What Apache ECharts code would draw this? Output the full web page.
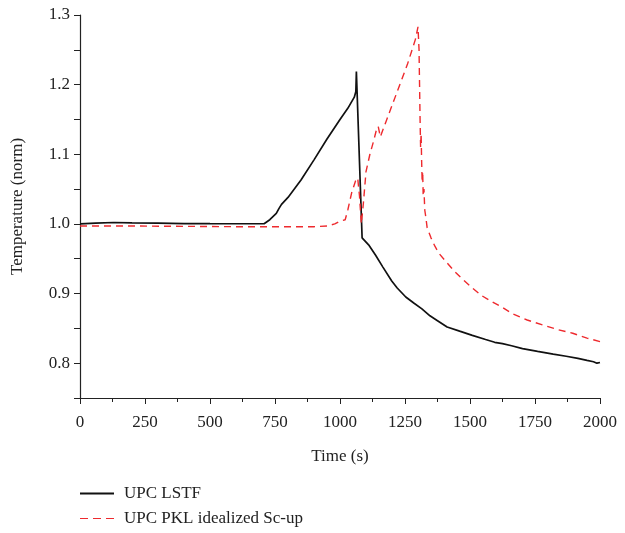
<!DOCTYPE html>
<html>
<head>
<meta charset="utf-8">
<script src="https://cdn.jsdelivr.net/npm/echarts@6/dist/echarts.min.js"></script>
<style>html,body{margin:0;padding:0;background:#fff}#c{width:625px;height:533px}</style>
</head>
<body>
<div id="c"></div>
<script>
var seriesNames = ['UPC LSTF', 'UPC PKL idealized Sc-up'];
var xTicks = [0, 250, 500, 750, 1000, 1250, 1500, 1750, 2000];
var yTicks = [0.8, 0.9, 1.0, 1.1, 1.2, 1.3];

var timeLSTF = [0, 60, 130, 200, 300, 400, 500, 600, 700, 708, 730, 755, 765, 775, 800, 850, 900, 950, 1000, 1030, 1055, 1061, 1063, 1085, 1110, 1137, 1165, 1199, 1220, 1253, 1285, 1315, 1346, 1375, 1412, 1460, 1509, 1560, 1595, 1625, 1660, 1702, 1760, 1820, 1870, 1915, 1950, 1975, 1988, 2000];
var tempLSTF = [1.000, 1.001, 1.002, 1.0015, 1.001, 1.0005, 1.0003, 1.0002, 1.0002, 1.0003, 1.006, 1.015, 1.022, 1.028, 1.038, 1.063, 1.092, 1.122, 1.150, 1.166, 1.182, 1.19, 1.219, 0.98, 0.970, 0.955, 0.938, 0.918, 0.908, 0.895, 0.886, 0.878, 0.868, 0.861, 0.852, 0.846, 0.840, 0.834, 0.830, 0.828, 0.825, 0.821, 0.817, 0.813, 0.810, 0.807, 0.804, 0.802, 0.800, 0.801];

var timePKL = [0, 200, 400, 600, 800, 900, 950, 980, 1000, 1020, 1030, 1045, 1060, 1068, 1075, 1082, 1090, 1100, 1115, 1130, 1140, 1147, 1155, 1180, 1220, 1260, 1290, 1300, 1304, 1306, 1308, 1310, 1312, 1314, 1316, 1318, 1320, 1323, 1326, 1330, 1335, 1340, 1350, 1365, 1380, 1412, 1440, 1470, 1509, 1545, 1586, 1625, 1663, 1720, 1779, 1840, 1895, 1950, 2000];
var tempPKL = [0.997, 0.997, 0.9965, 0.996, 0.996, 0.996, 0.997, 1.0, 1.004, 1.006, 1.02, 1.045, 1.062, 1.066, 1.04, 1.0, 1.03, 1.075, 1.1, 1.12, 1.135, 1.14, 1.125, 1.15, 1.19, 1.23, 1.265, 1.283, 1.25, 1.2, 1.15, 1.11, 1.13, 1.09, 1.06, 1.075, 1.04, 1.05, 1.02, 1.01, 0.995, 0.99, 0.98, 0.968, 0.958, 0.944, 0.932, 0.921, 0.908, 0.897, 0.888, 0.880, 0.871, 0.862, 0.855, 0.848, 0.843, 0.836, 0.831];

function pairs(xs, ys) { return xs.map(function (x, i) { return [x, ys[i]]; }); }

var font = 'Liberation Serif';
var chart = echarts.init(document.getElementById('c'), null, {renderer: 'canvas'});
chart.setOption({
  animation: false,
  backgroundColor: '#fff',
  grid: {left: 80, right: 25, top: 15, bottom: 135, containLabel: false},
  legend: {
    show: true,
    orient: 'vertical', left: 75, top: 480, itemWidth: 34, itemHeight: 1.8, itemGap: 8,
    textStyle: {fontFamily: font, fontSize: 17, color: '#222', padding: [0, 0, 0, 5]},
    data: [
      {name: seriesNames[0], icon: 'rect'},
      {name: seriesNames[1], icon: 'path://M0,0h8v1h-8zM13,0h8v1h-8zM26,0h8v1h-8z'}
    ]
  },
  xAxis: {
    type: 'value', min: 0, max: 2000, interval: 250,
    name: 'Time (s)', nameLocation: 'middle', nameGap: 50,
    nameTextStyle: {fontFamily: font, fontSize: 17, color: '#222'},
    axisLine: {lineStyle: {color: '#222', width: 1.2}},
    axisTick: {show: true, length: 6, lineStyle: {color: '#222'}},
    minorTick: {show: true, splitNumber: 2, length: 4, lineStyle: {color: '#222'}},
    splitLine: {show: false},
    axisLabel: {fontFamily: font, fontSize: 17, color: '#222', margin: 16,
      formatter: function (v) { return xTicks.indexOf(v) >= 0 ? String(v) : ''; }}
  },
  yAxis: {
    type: 'value', min: 0.75, max: 1.3, interval: 0.05,
    name: 'Temperature (norm)', nameLocation: 'middle', nameGap: 54, nameRotate: 90,
    nameTextStyle: {fontFamily: font, fontSize: 17, color: '#222'},
    axisLine: {show: true, lineStyle: {color: '#222', width: 1.2}},
    axisTick: {show: true, length: 6, lineStyle: {color: '#222'}},
    splitLine: {show: false},
    axisLabel: {fontFamily: font, fontSize: 17, color: '#222', margin: 10,
      formatter: function (v) {
        var r = Math.round(v * 100);
        if (r % 10 !== 0) return '';
        var t = r / 100;
        return yTicks.indexOf(t) >= 0 ? t.toFixed(1) : '';
      }}
  },
  series: [
    {name: seriesNames[0], type: 'line', showSymbol: false, symbol: 'none',
      data: pairs(timeLSTF, tempLSTF),
      itemStyle: {color: '#111'},
      lineStyle: {color: '#111', width: 1.7}},
    {name: seriesNames[1], type: 'line', showSymbol: false, symbol: 'none',
      data: pairs(timePKL, tempPKL),
      itemStyle: {color: '#ee2a2e'},
      lineStyle: {color: '#ee2a2e', width: 1.4, type: [7, 5]}}
  ]
});
</script>
</body>
</html>
